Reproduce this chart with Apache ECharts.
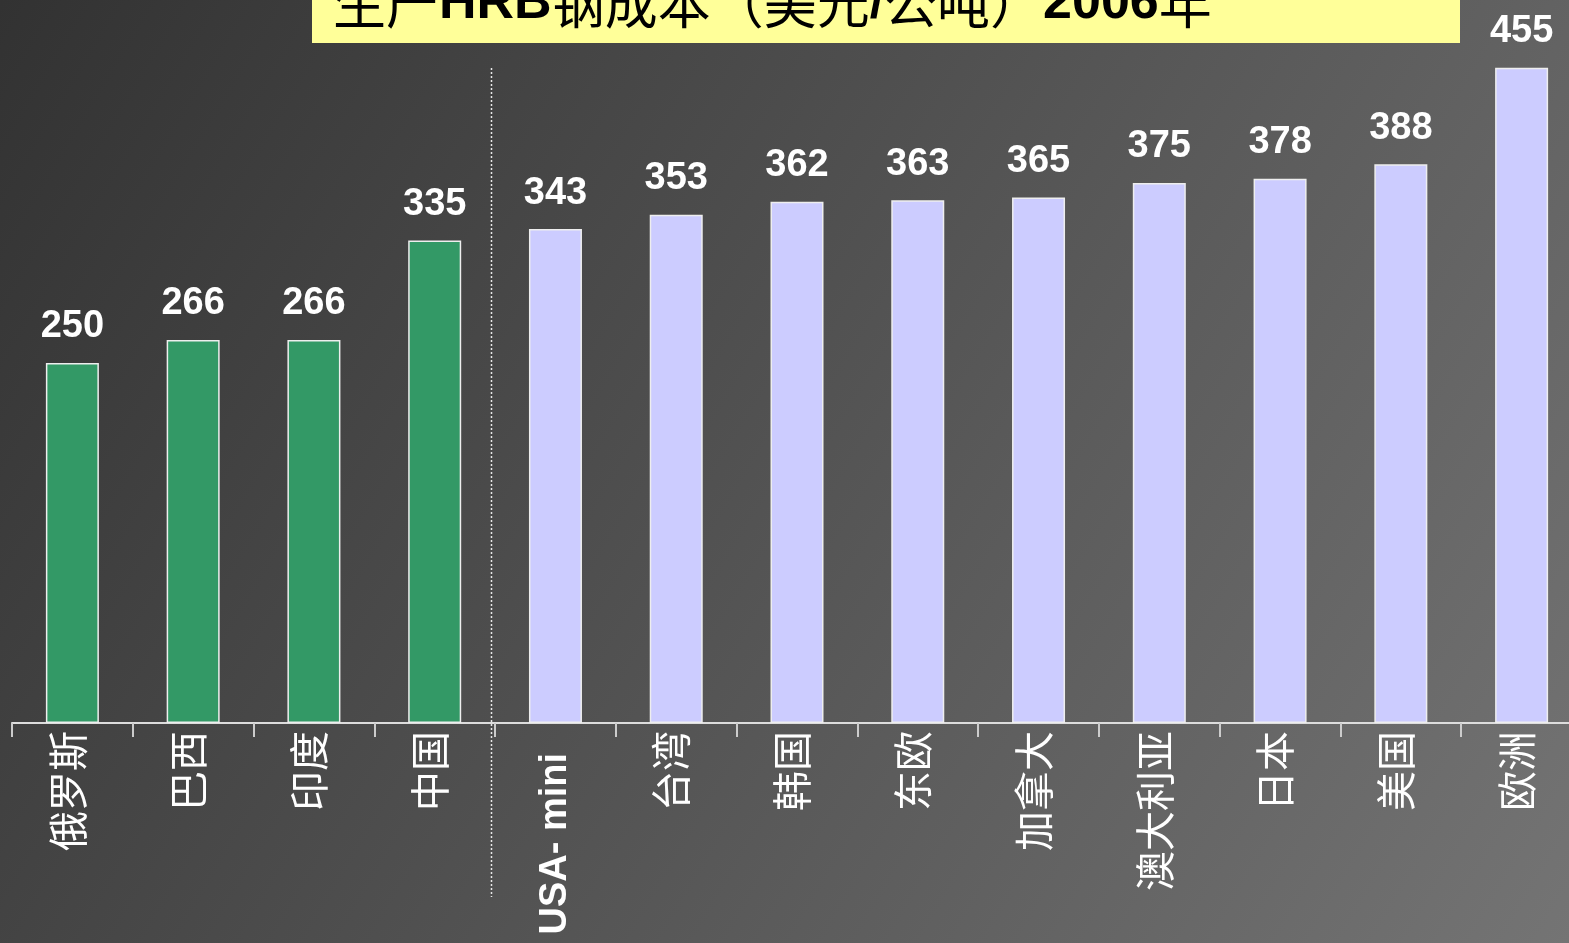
<!DOCTYPE html>
<html>
<head>
<meta charset="utf-8">
<script src="https://cdn.jsdelivr.net/npm/echarts@6/dist/echarts.min.js"></script>
<style>
html,body{margin:0;padding:0;width:1569px;height:943px;overflow:hidden;}
#chart{width:1569px;height:943px;}
</style>
</head>
<body>
<div id="chart"></div>
<script>
var categories = ['俄罗斯', '巴西', '印度', '中国', 'USA- mini', '台湾', '韩国', '东欧', '加拿大', '澳大利亚', '日本', '美国', '欧洲'];
var costValues = [250, 266, 266, 335, 343, 353, 362, 363, 365, 375, 378, 388, 455];
var lowCostCount = 4;
var titleParts = [['c', '生产'], ['b', 'HRB'], ['c', '钢成本（美元'], ['b', '/'], ['c', '公吨）'], ['b', '2006'], ['c', '年']];

var chart = echarts.init(document.getElementById('chart'));

var GREEN = '#339966';
var LAVENDER = '#CCCCFF';
var NUM_FONT = '"Liberation Sans", Arial, sans-serif';

var seriesData = costValues.map(function (v, i) {
  return {
    value: v,
    itemStyle: { color: i < lowCostCount ? GREEN : LAVENDER }
  };
});

var titleText = titleParts.map(function (p) { return '{' + p[0] + '|' + p[1] + '}'; }).join('');

var option = {
  backgroundColor: new echarts.graphic.LinearGradient(0, 0, 1, 1, [
    { offset: 0, color: '#323232' },
    { offset: 1, color: '#747474' }
  ]),
  animation: false,
  grid: { left: 12, top: 3, right: -13, height: 720, containLabel: false, outerBoundsMode: 'none' },
  xAxis: {
    type: 'category',
    data: categories,
    axisLine: { show: true, lineStyle: { color: '#dddddd', width: 2 } },
    axisTick: { show: true, length: 14, lineStyle: { color: '#cccccc', width: 2 } },
    axisLabel: {
      rotate: 90,
      margin: 8,
      color: '#ffffff',
      fontSize: 40,
      fontFamily: '"Noto Sans CJK SC", sans-serif',
      interval: 0,
      formatter: function (v) {
        if (/^[\x00-\x7f]+$/.test(v)) return '{u|' + v + '}';
        return '{z|' + v + '}';
      },
      rich: {
        z: { color: '#ffffff', fontSize: 40, fontFamily: '"Noto Sans CJK SC", sans-serif', padding: [0, 0, 10, 0] },
        u: { color: '#ffffff', fontSize: 38, fontWeight: 'bold', fontFamily: '"Liberation Sans", Arial, sans-serif', padding: [0, 22, 0, 0] }
      }
    }
  },
  yAxis: { type: 'value', min: 0, max: 500, show: false, splitLine: { show: false } },
  series: [{
    type: 'bar',
    data: seriesData,
    barWidth: 53,
    itemStyle: { borderColor: '#eeeeee', borderWidth: 1.5 },
    label: {
      show: true,
      position: 'top',
      distance: 17,
      color: '#ffffff',
      fontSize: 38,
      fontWeight: 'bold',
      fontFamily: NUM_FONT
    }
  }]
};

chart.setOption(option);

var xa = chart.convertToPixel({ xAxisIndex: 0 }, lowCostCount - 1);
var xb = chart.convertToPixel({ xAxisIndex: 0 }, lowCostCount);
var sepX = Math.round((xa + xb) / 2) - 4 + 0.5;

chart.setOption({
  graphic: [
    {
      type: 'rect',
      shape: { x: 312, y: 0, width: 1148, height: 43 },
      style: { fill: '#FFFF99' },
      z: 10
    },
    {
      type: 'text',
      x: 333,
      y: 4,
      z: 11,
      style: {
        text: titleText,
        verticalAlign: 'middle',
        align: 'left',
        rich: {
          c: { fontSize: 53, fontFamily: '"Noto Sans CJK SC", sans-serif', fill: '#000000', color: '#000000' },
          b: { fontSize: 52, fontWeight: 'bold', fontFamily: '"Liberation Sans", Arial, sans-serif', fill: '#000000', color: '#000000' }
        }
      }
    },
    {
      type: 'line',
      shape: { x1: sepX, y1: 68, x2: sepX, y2: 897 },
      style: { stroke: '#e8e8e8', lineWidth: 1.5, lineDash: [2, 2] },
      z: 5
    }
  ]
});
</script>
</body>
</html>
